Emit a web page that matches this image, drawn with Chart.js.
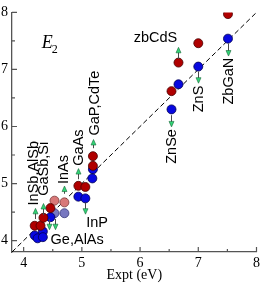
<!DOCTYPE html>
<html><head><meta charset="utf-8">
<script src="https://cdn.jsdelivr.net/npm/chart.js@4/dist/chart.umd.min.js"></script>
<style>html,body{margin:0;padding:0;background:#fff;}canvas{display:block;}</style>
</head><body>
<canvas id="c" width="263" height="289"></canvas>
<script>
// ---- data ----
const xTicks = [4, 5, 6, 7, 8];
const yTicks = [4, 5, 6, 7, 8];
const minorTicks = [4.5, 5.5, 6.5, 7.5];
const axisMin = 3.8, axisMax = 8;

// Expt (x) vs theory (y), two theory variants
const redX  = [4.19, 4.29, 4.34, 4.46, 4.94, 5.06, 5.19, 5.19, 6.54, 6.66, 7.00, 7.51];
const redY  = [4.26, 4.26, 4.40, 4.57, 4.96, 4.94, 5.48, 5.31, 6.62, 7.12, 7.46, 7.97];
const blueX = [4.19, 4.24, 4.33, 4.33, 4.46, 4.94, 5.06, 5.19, 5.18, 6.54, 6.66, 7.00, 7.51];
const blueY = [4.09, 4.04, 4.16, 4.06, 4.41, 4.77, 4.74, 5.25, 5.09, 6.30, 6.74, 7.05, 7.54];
const pinkX = [4.53, 4.70];
const pinkY = [4.70, 4.67];
const purpleX = [4.53, 4.70];
const purpleY = [4.48, 4.48];
const diagX = [3.8, 8];

// annotation arrows: x, from y, to y (data units)
const arrowX    = [4.191, 4.327, 4.429, 4.531, 4.701, 4.939, 5.058, 5.194, 6.657, 6.997, 7.507, 6.538];
const arrowFrom = [4.378, 4.446, 4.378, 4.378, 4.820, 5.075, 4.667, 5.619, 7.184, 6.963, 7.456, 6.198];
const arrowTo   = [4.565, 4.650, 4.191, 4.191, 4.956, 5.262, 4.463, 5.772, 7.388, 6.759, 7.235, 5.993];

// text labels (anchor in data units); vertical ones read bottom-to-top
const labelText = ['InSb,AlSb', 'GaSb,Si', 'InAs', 'GaAs', 'GaP,CdTe', 'ZnSe', 'ZnS', 'ZbGaN', 'zbCdS', 'InP', 'Ge,AlAs'];
const labelX    = [4.242, 4.412, 4.769, 5.024, 5.296, 6.623, 7.082, 7.592, 5.891, 5.075, 4.463];
const labelY    = [4.616, 4.786, 4.990, 5.313, 5.840, 5.347, 6.249, 6.385, 7.473, 4.242, 3.936];
const labelVertical = [true, true, true, true, true, true, true, true, false, false, false];

const toPts = (xs, ys) => xs.map((x, i) => ({x: x, y: ys[i]}));

const annot = {
  id: 'annot',
  afterDatasetsDraw(chart) {
    const ctx = chart.ctx, xs = chart.scales.x, ys = chart.scales.y;
    ctx.save();
    // arrows
    for (let i = 0; i < arrowX.length; i++) {
      const px = Math.round(xs.getPixelForValue(arrowX[i])) + 0.5;
      const y0 = ys.getPixelForValue(arrowFrom[i]);
      const y1 = ys.getPixelForValue(arrowTo[i]);
      const dir = y1 < y0 ? -1 : 1;
      ctx.strokeStyle = '#4a4a4a'; ctx.lineWidth = 1;
      ctx.beginPath(); ctx.moveTo(px, y0); ctx.lineTo(px, y1 - dir * 4); ctx.stroke();
      ctx.beginPath();
      ctx.moveTo(px, y1);
      ctx.lineTo(px - 2.5, y1 - dir * 5.5);
      ctx.lineTo(px + 2.5, y1 - dir * 5.5);
      ctx.closePath();
      ctx.fillStyle = '#33d477'; ctx.fill();
      ctx.strokeStyle = '#1a6a3a'; ctx.lineWidth = 0.6; ctx.stroke();
    }
    // labels
    ctx.fillStyle = '#000';
    ctx.font = '14.5px "Liberation Sans", Arial, sans-serif';
    ctx.textBaseline = 'alphabetic';
    ctx.textAlign = 'left';
    for (let i = 0; i < labelText.length; i++) {
      const px = xs.getPixelForValue(labelX[i]);
      const py = ys.getPixelForValue(labelY[i]);
      if (labelVertical[i]) {
        ctx.save(); ctx.translate(px, py); ctx.rotate(-Math.PI / 2);
        ctx.fillText(labelText[i], 0, 0); ctx.restore();
      } else {
        ctx.fillText(labelText[i], px, py);
      }
    }
    // panel label E2
    const ex = xs.getPixelForValue(4.31), ey = ys.getPixelForValue(7.37);
    ctx.font = 'italic 18px "Liberation Serif", "Times New Roman", serif';
    ctx.fillText('E', ex, ey);
    const w = ctx.measureText('E').width;
    ctx.font = '12px "Liberation Serif", "Times New Roman", serif';
    ctx.fillText('2', ex + w - 1, ey + 5);
    ctx.restore();
  },
  afterDraw(chart) {
    const ctx = chart.ctx, xs = chart.scales.x, ys = chart.scales.y, a = chart.chartArea;
    ctx.save();
    ctx.strokeStyle = '#555'; ctx.lineWidth = 1.2;
    ctx.beginPath();
    xTicks.forEach(v => { const p = xs.getPixelForValue(v); ctx.moveTo(p, a.bottom); ctx.lineTo(p, a.bottom - 5); });
    minorTicks.forEach(v => { const p = xs.getPixelForValue(v); ctx.moveTo(p, a.bottom); ctx.lineTo(p, a.bottom - 3); });
    yTicks.forEach(v => { const p = ys.getPixelForValue(v); ctx.moveTo(a.left, p); ctx.lineTo(a.left + 5, p); });
    minorTicks.forEach(v => { const p = ys.getPixelForValue(v); ctx.moveTo(a.left, p); ctx.lineTo(a.left + 3, p); });
    ctx.stroke();
    ctx.restore();
  }
};

const pointDs = (label, pts, fill, border) => ({
  type: 'scatter', label, data: pts, backgroundColor: fill, borderColor: border,
  pointRadius: 4.5, pointBorderWidth: 0.8, pointHoverRadius: 4.5, order: 1
});

new Chart(document.getElementById('c'), {
  data: {
    datasets: [
      { type: 'line', label: 'y=x', data: toPts(diagX, diagX), borderColor: '#000', borderWidth: 1,
        borderDash: [5, 3], pointRadius: 0, fill: false, order: 5 },
      pointDs('red', toPts(redX, redY), '#b00000', '#4a0000'),
      pointDs('blue', toPts(blueX, blueY), '#0808e0', '#000050'),
      pointDs('pink', toPts(pinkX, pinkY), '#d87878', '#7a3a3a'),
      pointDs('purple', toPts(purpleX, purpleY), '#7878c0', '#3a3a7a')
    ]
  },
  options: {
    responsive: false, animation: false, devicePixelRatio: 1,
    layout: { padding: { top: 5, right: 4, left: 0, bottom: 0 } },
    plugins: { legend: { display: false }, tooltip: { enabled: false } },
    scales: {
      x: {
        type: 'linear', min: axisMin, max: axisMax,
        afterBuildTicks: s => { s.ticks = xTicks.map(v => ({ value: v })); },
        afterFit: s => { s.height = 37; },
        grid: { display: false, drawTicks: false },
        border: { display: true, color: '#555', width: 1.3 },
        ticks: { padding: 3, color: '#000', maxRotation: 0, autoSkip: false,
                 font: { family: '"Liberation Serif", "Times New Roman", serif', size: 14 } },
        title: { display: true, text: 'Expt (eV)', color: '#000', padding: { top: 0, bottom: 5 },
                 font: { family: '"Liberation Serif", "Times New Roman", serif', size: 14 } }
      },
      y: {
        type: 'linear', min: axisMin, max: axisMax,
        afterBuildTicks: s => { s.ticks = yTicks.map(v => ({ value: v })); },
        afterFit: s => { s.width = 12; },
        grid: { display: false, drawTicks: false },
        border: { display: true, color: '#555', width: 1.3 },
        ticks: { padding: 4, color: '#000', autoSkip: false,
                 font: { family: '"Liberation Serif", "Times New Roman", serif', size: 14 } }
      }
    }
  },
  plugins: [annot]
});
</script>
</body></html>
